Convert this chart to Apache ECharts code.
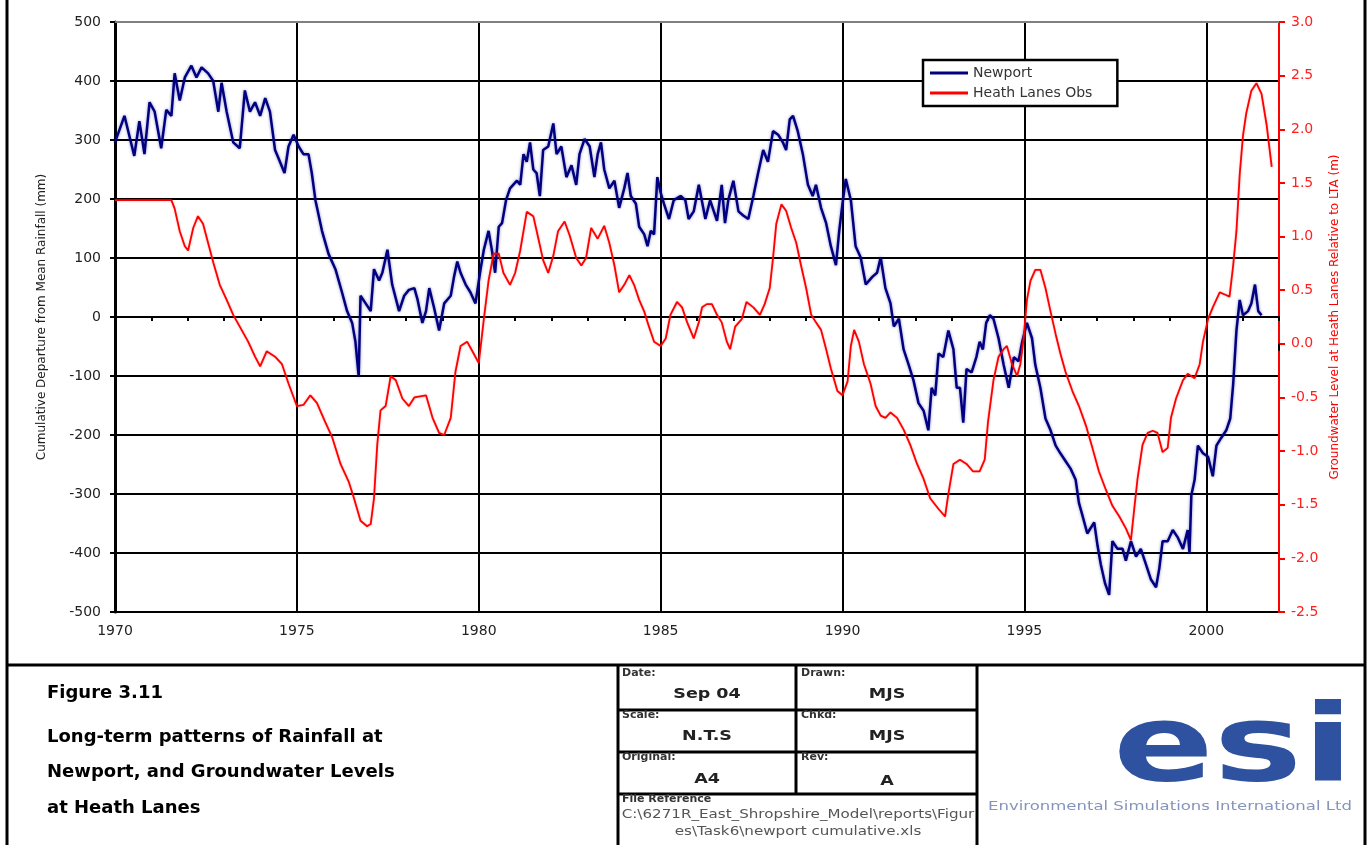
<!DOCTYPE html>
<html>
<head>
<meta charset="utf-8">
<script src="https://cdn.jsdelivr.net/npm/echarts@6/dist/echarts.min.js"></script>
<style>
  html, body { margin: 0; padding: 0; background: #fff; }
  #main { width: 1370px; height: 845px; }
</style>
</head>
<body>
<div id="main"></div>
<script>
// Newport - cumulative departure from mean rainfall (mm)
var newportYear = [
  1970.00, 1970.26, 1970.53, 1970.67, 1970.81, 1970.95, 1971.09, 1971.27, 1971.41, 1971.55,
  1971.64, 1971.78, 1971.92, 1972.10, 1972.24, 1972.38, 1972.56, 1972.70, 1972.84, 1972.93,
  1973.07, 1973.25, 1973.43, 1973.57, 1973.71, 1973.85, 1973.99, 1974.13, 1974.26, 1974.40,
  1974.49, 1974.66, 1974.77, 1974.91, 1975.05, 1975.18, 1975.32, 1975.41, 1975.51, 1975.69,
  1975.87, 1976.06, 1976.24, 1976.38, 1976.52, 1976.61, 1976.70, 1976.75, 1976.89, 1977.03,
  1977.12, 1977.26, 1977.35, 1977.49, 1977.62, 1977.81, 1977.95, 1978.08, 1978.23, 1978.32,
  1978.45, 1978.55, 1978.64, 1978.77, 1978.91, 1979.05, 1979.23, 1979.32, 1979.41, 1979.50,
  1979.64, 1979.77, 1979.91, 1980.05, 1980.14, 1980.27, 1980.36, 1980.45, 1980.55, 1980.64,
  1980.75, 1980.86, 1981.05, 1981.14, 1981.23, 1981.32, 1981.41, 1981.50, 1981.59, 1981.68,
  1981.77, 1981.91, 1982.05, 1982.14, 1982.27, 1982.41, 1982.55, 1982.68, 1982.77, 1982.91,
  1983.05, 1983.18, 1983.27, 1983.36, 1983.45, 1983.59, 1983.73, 1983.86, 1984.00, 1984.09,
  1984.18, 1984.32, 1984.41, 1984.55, 1984.64, 1984.73, 1984.82, 1984.91, 1985.00, 1985.09,
  1985.23, 1985.36, 1985.55, 1985.68, 1985.77, 1985.91, 1986.05, 1986.23, 1986.36, 1986.55,
  1986.68, 1986.77, 1986.86, 1987.00, 1987.14, 1987.27, 1987.41, 1987.55, 1987.68, 1987.82,
  1987.95, 1988.09, 1988.23, 1988.36, 1988.45, 1988.55, 1988.64, 1988.77, 1988.91, 1989.05,
  1989.18, 1989.27, 1989.41, 1989.55, 1989.68, 1989.82, 1989.91, 1990.00, 1990.09, 1990.23,
  1990.36, 1990.50, 1990.64, 1990.82, 1990.95, 1991.05, 1991.18, 1991.32, 1991.41, 1991.55,
  1991.68, 1991.82, 1991.95, 1992.09, 1992.23, 1992.36, 1992.45, 1992.55, 1992.64, 1992.77,
  1992.91, 1993.05, 1993.14, 1993.23, 1993.32, 1993.41, 1993.55, 1993.68, 1993.77, 1993.86,
  1993.95, 1994.05, 1994.15, 1994.29, 1994.43, 1994.57, 1994.71, 1994.84, 1994.94, 1995.07,
  1995.21, 1995.30, 1995.44, 1995.58, 1995.72, 1995.86, 1995.99, 1996.13, 1996.27, 1996.41,
  1996.50, 1996.59, 1996.73, 1996.92, 1997.01, 1997.10, 1997.22, 1997.33, 1997.42, 1997.56,
  1997.70, 1997.79, 1997.93, 1998.07, 1998.20, 1998.34, 1998.48, 1998.62, 1998.71, 1998.80,
  1998.94, 1999.08, 1999.22, 1999.36, 1999.49, 1999.54, 1999.59, 1999.68, 1999.77, 1999.91,
  2000.05, 2000.18, 2000.28, 2000.41, 2000.55, 2000.66, 2000.74, 2000.83, 2000.92, 2001.01,
  2001.15, 2001.24, 2001.34, 2001.43, 2001.52
];
var newportValue = [
  296, 341, 273, 332, 276, 364, 348, 286, 351, 341,
  413, 367, 406, 426, 406, 423, 413, 400, 348, 397,
  348, 296, 286, 384, 348, 364, 341, 371, 348, 283,
  270, 244, 289, 309, 289, 276, 276, 244, 198, 146,
  107, 81, 42, 10, -10, -42, -101, 36, 23, 10,
  81, 62, 75, 114, 55, 10, 36, 46, 49, 29,
  -10, 10, 49, 16, -23, 23, 36, 68, 94, 75,
  55, 42, 23, 81, 114, 146, 114, 75, 153, 159,
  198, 218, 231, 224, 276, 263, 296, 250, 244, 205,
  283, 289, 328, 276, 289, 237, 257, 224, 276, 302,
  289, 237, 276, 296, 250, 218, 231, 185, 218, 244,
  205, 192, 153, 140, 120, 146, 140, 237, 211, 192,
  166, 198, 205, 198, 166, 179, 224, 166, 198, 163,
  224, 159, 198, 231, 179, 172, 166, 205, 244, 283,
  263, 315, 309, 296, 283, 335, 341, 315, 276, 224,
  205, 224, 185, 159, 120, 88, 146, 192, 234, 198,
  120, 101, 55, 68, 75, 101, 49, 23, -16, -3,
  -55, -81, -107, -146, -159, -192, -120, -133, -62, -68,
  -23, -55, -120, -120, -179, -88, -94, -68, -42, -55,
  -10, 3, -3, -36, -81, -120, -68, -75, -42, -10,
  -36, -81, -120, -172, -192, -218, -231, -244, -257, -276,
  -315, -335, -367, -348, -387, -419, -452, -471, -380, -393,
  -393, -413, -380, -406, -393, -419, -445, -458, -426, -380,
  -380, -361, -374, -393, -361, -400, -302, -276, -218, -231,
  -237, -270, -218, -205, -192, -172, -114, -23, 29, 3,
  10, 23, 55, 10, 3
];

// Heath Lanes Obs - groundwater level relative to LTA (m)
var heathYear = [
  1970.00, 1971.55, 1971.64, 1971.78, 1971.92, 1972.01, 1972.15, 1972.28, 1972.42, 1972.56,
  1972.70, 1972.88, 1973.07, 1973.25, 1973.43, 1973.66, 1973.85, 1973.99, 1974.17, 1974.40,
  1974.59, 1974.77, 1975.00, 1975.18, 1975.37, 1975.55, 1975.78, 1975.97, 1976.20, 1976.43,
  1976.57, 1976.75, 1976.93, 1977.03, 1977.12, 1977.21, 1977.30, 1977.44, 1977.58, 1977.72,
  1977.90, 1978.08, 1978.23, 1978.55, 1978.73, 1978.91, 1979.05, 1979.23, 1979.36, 1979.50,
  1979.68, 1979.86, 1980.00, 1980.14, 1980.27, 1980.41, 1980.55, 1980.68, 1980.86, 1981.00,
  1981.14, 1981.32, 1981.50, 1981.64, 1981.77, 1981.91, 1982.05, 1982.18, 1982.36, 1982.50,
  1982.68, 1982.82, 1982.95, 1983.09, 1983.27, 1983.45, 1983.59, 1983.73, 1983.86, 1984.00,
  1984.14, 1984.27, 1984.41, 1984.55, 1984.68, 1984.82, 1985.00, 1985.14, 1985.27, 1985.45,
  1985.59, 1985.73, 1985.91, 1986.05, 1986.14, 1986.27, 1986.41, 1986.55, 1986.68, 1986.82,
  1986.91, 1987.05, 1987.23, 1987.36, 1987.55, 1987.73, 1987.86, 1988.00, 1988.09, 1988.18,
  1988.32, 1988.45, 1988.59, 1988.73, 1988.86, 1989.00, 1989.14, 1989.27, 1989.41, 1989.55,
  1989.68, 1989.86, 1990.00, 1990.14, 1990.23, 1990.32, 1990.45, 1990.59, 1990.77, 1990.91,
  1991.05, 1991.18, 1991.32, 1991.50, 1991.68, 1991.86, 1992.05, 1992.23, 1992.41, 1992.64,
  1992.82, 1992.91, 1993.05, 1993.23, 1993.41, 1993.59, 1993.77, 1993.91, 1994.00, 1994.15,
  1994.29, 1994.43, 1994.52, 1994.66, 1994.80, 1994.89, 1994.98, 1995.07, 1995.17, 1995.30,
  1995.44, 1995.58, 1995.72, 1995.86, 1995.99, 1996.13, 1996.32, 1996.50, 1996.69, 1996.87,
  1997.05, 1997.24, 1997.42, 1997.61, 1997.79, 1997.93, 1998.02, 1998.11, 1998.25, 1998.39,
  1998.53, 1998.66, 1998.80, 1998.94, 1999.03, 1999.17, 1999.36, 1999.49, 1999.68, 1999.82,
  1999.91, 2000.05, 2000.18, 2000.37, 2000.51, 2000.64, 2000.74, 2000.83, 2000.92, 2001.01,
  2001.10, 2001.24, 2001.38, 2001.52, 2001.66, 2001.80
];
var heathValue = [
  1.34, 1.34, 1.26, 1.05, 0.91, 0.87, 1.08, 1.19, 1.12, 0.94,
  0.76, 0.55, 0.41, 0.27, 0.16, 0.02, -0.12, -0.21, -0.07, -0.12,
  -0.19, -0.37, -0.58, -0.57, -0.48, -0.55, -0.73, -0.87, -1.12, -1.29,
  -1.44, -1.65, -1.70, -1.68, -1.44, -0.94, -0.62, -0.58, -0.30, -0.34,
  -0.51, -0.58, -0.50, -0.48, -0.69, -0.83, -0.85, -0.69, -0.26, -0.02,
  0.02, -0.09, -0.18, 0.23, 0.59, 0.84, 0.84, 0.66, 0.55, 0.66,
  0.87, 1.23, 1.19, 0.98, 0.78, 0.66, 0.82, 1.05, 1.14, 1.01,
  0.80, 0.73, 0.80, 1.08, 0.98, 1.10, 0.94, 0.73, 0.48, 0.55,
  0.64, 0.55, 0.41, 0.30, 0.16, 0.02, -0.02, 0.05, 0.27, 0.39,
  0.34, 0.20, 0.05, 0.20, 0.34, 0.37, 0.37, 0.27, 0.20, 0.02,
  -0.05, 0.16, 0.23, 0.39, 0.34, 0.27, 0.37, 0.52, 0.80, 1.12,
  1.30, 1.24, 1.08, 0.94, 0.73, 0.52, 0.27, 0.20, 0.13, -0.05,
  -0.23, -0.44, -0.48, -0.35, -0.02, 0.13, 0.02, -0.19, -0.37, -0.58,
  -0.67, -0.69, -0.64, -0.69, -0.80, -0.94, -1.12, -1.26, -1.44, -1.54,
  -1.61, -1.40, -1.12, -1.08, -1.12, -1.19, -1.19, -1.08, -0.73, -0.34,
  -0.12, -0.05, -0.02, -0.19, -0.30, -0.19, 0.05, 0.41, 0.59, 0.69,
  0.69, 0.52, 0.30, 0.09, -0.09, -0.26, -0.44, -0.58, -0.76, -0.97,
  -1.19, -1.36, -1.51, -1.61, -1.72, -1.83, -1.54, -1.26, -0.94, -0.83,
  -0.81, -0.83, -1.01, -0.97, -0.69, -0.51, -0.34, -0.28, -0.32, -0.19,
  0.02, 0.23, 0.34, 0.48, 0.46, 0.44, 0.73, 1.05, 1.58, 1.94,
  2.15, 2.36, 2.43, 2.33, 2.04, 1.65
];

var seriesNames = ['Newport', 'Heath Lanes Obs'];

function zip(xs, ys) {
  var out = [];
  for (var i = 0; i < xs.length; i++) out.push([xs[i], ys[i]]);
  return out;
}

var FONT = '"DejaVu Sans", "Liberation Sans", Arial, sans-serif';

var myChart = echarts.init(document.getElementById('main'), null, { renderer: 'canvas' });

// bits of the drawing frame / title block
function hline(x1, x2, y, w, c) {
  return { type: 'line', silent: true, z: 10, shape: { x1: x1, y1: y, x2: x2, y2: y }, style: { stroke: c || '#000', lineWidth: w || 3 } };
}
function vline(x, y1, y2, w, c) {
  return { type: 'line', silent: true, z: 10, shape: { x1: x, y1: y1, x2: x, y2: y2 }, style: { stroke: c || '#000', lineWidth: w || 3 } };
}
function txt(s, x, y, font, fill, align, sx) {
  return {
    type: 'text', silent: true, z: 10, x: x, y: y, scaleX: sx || 1,
    style: { text: s, x: 0, y: 0, font: font, fill: fill || '#000', textAlign: align || 'left', textVerticalAlign: 'middle' }
  };
}

var graphics = [
  // top border of plot area (grey)
  hline(115, 1279, 22, 2, '#808080'),
  // outer frame
  vline(7, 0, 845, 3),
  vline(1365, 0, 845, 3),
  hline(7, 1365, 665, 3),
  // table
  vline(618, 665, 845, 3),
  vline(796, 665, 794, 3),
  vline(977, 665, 845, 3),
  hline(618, 977, 710, 3),
  hline(618, 977, 752, 3),
  hline(618, 977, 794, 3),
  // figure caption
  txt('Figure 3.11', 47, 693, 'bold 18px ' + FONT),
  txt('Long-term patterns of Rainfall at', 47, 737, 'bold 18px ' + FONT),
  txt('Newport, and Groundwater Levels', 47, 772, 'bold 18px ' + FONT),
  txt('at Heath Lanes', 47, 808, 'bold 18px ' + FONT),
  // table cells
  txt('Date:', 622, 673, 'bold 10px ' + FONT, '#333', 'left', 1.1),
  txt('Drawn:', 801, 673, 'bold 10px ' + FONT, '#333', 'left', 1.1),
  txt('Scale:', 622, 715, 'bold 10px ' + FONT, '#333', 'left', 1.1),
  txt('Chkd:', 801, 715, 'bold 10px ' + FONT, '#333', 'left', 1.1),
  txt('Original:', 622, 757, 'bold 10px ' + FONT, '#333', 'left', 1.1),
  txt('Rev:', 801, 757, 'bold 10px ' + FONT, '#333', 'left', 1.1),
  txt('File Reference', 622, 799, 'bold 10px ' + FONT, '#333', 'left', 1.1),
  txt('Sep 04', 707, 694, 'bold 14px ' + FONT, '#222', 'center', 1.25),
  txt('MJS', 887, 694, 'bold 14px ' + FONT, '#222', 'center', 1.25),
  txt('N.T.S', 707, 736, 'bold 14px ' + FONT, '#222', 'center', 1.25),
  txt('MJS', 887, 736, 'bold 14px ' + FONT, '#222', 'center', 1.25),
  txt('A4', 707, 779, 'bold 14px ' + FONT, '#222', 'center', 1.25),
  txt('A', 887, 781, 'bold 14px ' + FONT, '#222', 'center', 1.25),
  txt('C:\\6271R_East_Shropshire_Model\\reports\\Figur', 798, 815, '12px ' + FONT, '#555', 'center', 1.26),
  txt('es\\Task6\\newport cumulative.xls', 798, 832, '12px ' + FONT, '#555', 'center', 1.26),
  // logo
  txt('esi', 1113, 752, 'bold 107px ' + FONT, '#2f52a0', 'left', 1.39),
  txt('Environmental Simulations International Ltd', 988, 807, '13px ' + FONT, '#8494bc', 'left', 1.27)
];

var option = {
  animation: false,
  backgroundColor: '#fff',
  grid: { left: 115, right: 91, top: 22, bottom: 233 },
  legend: {
    data: seriesNames,
    orient: 'vertical',
    left: 923,
    top: 60,
    icon: 'rect',
    itemWidth: 38,
    itemHeight: 3,
    itemGap: 4,
    padding: [5, 25, 5, 7],
    backgroundColor: '#fff',
    borderColor: '#000',
    borderWidth: 2.5,
    textStyle: { fontFamily: FONT, fontSize: 14, lineHeight: 16, color: '#333' }
  },
  xAxis: [
    {
      type: 'value',
      min: 1970,
      max: 2002,
      interval: 1,
      position: 'bottom',
      axisLine: { lineStyle: { color: '#000', width: 2 } },
      axisTick: { show: true, inside: false, length: 4, lineStyle: { color: '#000', width: 2 } },
      axisLabel: {
        margin: 12,
        fontFamily: FONT,
        fontSize: 14,
        color: '#222',
        formatter: function (v) { return v % 5 === 0 ? String(v) : ''; }
      },
      splitLine: { show: false }
    },
    {
      // 5-year gridlines
      type: 'value',
      min: 1970,
      max: 2002,
      interval: 5,
      position: 'bottom',
      axisLine: { show: false },
      axisTick: { show: true, inside: false, length: 7, lineStyle: { color: '#000', width: 2 } },
      axisLabel: { show: false },
      splitLine: { show: true, lineStyle: { color: '#000', width: 2 } }
    }
  ],
  yAxis: [
    {
      type: 'value',
      min: -500,
      max: 500,
      interval: 100,
      name: 'Cumulative Departure from Mean Rainfall (mm)',
      nameLocation: 'middle',
      nameGap: 67,
      nameRotate: 90,
      nameTextStyle: { fontFamily: FONT, fontSize: 12, color: '#222' },
      axisLine: { show: true, lineStyle: { color: '#000', width: 3 } },
      axisTick: { show: true, inside: false, length: 5, lineStyle: { color: '#000', width: 2 } },
      axisLabel: { margin: 14, fontFamily: FONT, fontSize: 14, color: '#222' },
      splitLine: { show: true, lineStyle: { color: '#000', width: 2 } }
    },
    {
      type: 'value',
      position: 'right',
      min: -2.5,
      max: 3.0,
      interval: 0.5,
      name: 'Groundwater Level at Heath Lanes Relative to LTA (m)',
      nameLocation: 'middle',
      nameGap: 37,
      nameRotate: 90,
      nameTextStyle: { fontFamily: FONT, fontSize: 12, color: '#ff0000' },
      axisLine: { show: true, lineStyle: { color: '#ff0000', width: 2 } },
      axisTick: { show: true, inside: false, length: 6, lineStyle: { color: '#ff0000', width: 2 } },
      axisLabel: {
        margin: 12, fontFamily: FONT, fontSize: 14, color: '#ff2020',
        formatter: function (v) { return v.toFixed(1); }
      },
      splitLine: { show: false }
    }
  ],
  series: [
    {
      name: seriesNames[0],
      type: 'line',
      xAxisIndex: 0,
      yAxisIndex: 0,
      symbol: 'none',
      color: '#000080',
      lineStyle: { color: '#000080', width: 2.5, shadowColor: 'rgba(0,0,128,0.45)', shadowBlur: 3 },
      data: zip(newportYear, newportValue),
      z: 3
    },
    {
      name: seriesNames[1],
      type: 'line',
      xAxisIndex: 0,
      yAxisIndex: 1,
      symbol: 'none',
      color: '#ff0000',
      lineStyle: { color: '#ff0000', width: 1.8, shadowColor: 'rgba(255,0,0,0.35)', shadowBlur: 2 },
      data: zip(heathYear, heathValue),
      z: 4
    }
  ],
  graphic: graphics
};

myChart.setOption(option);
</script>
</body>
</html>
